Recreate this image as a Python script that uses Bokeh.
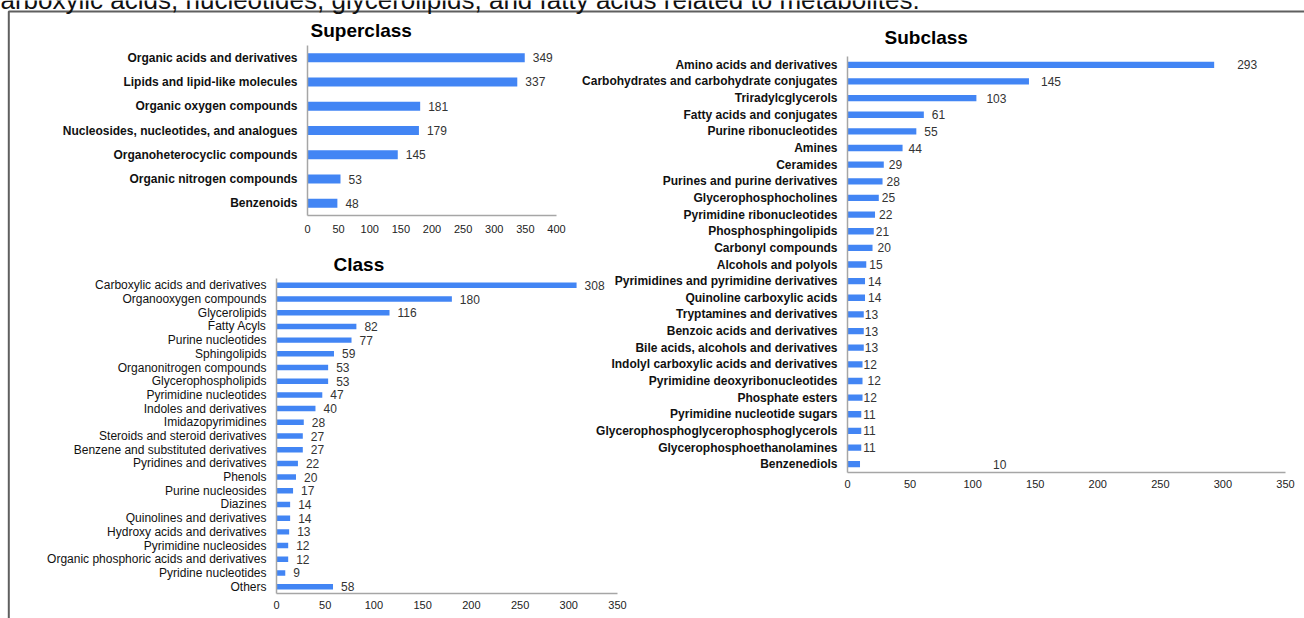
from bokeh.plotting import figure
from bokeh.models import ColumnDataSource, FactorRange, Range1d, FixedTicker, Label, BoxAnnotation
from bokeh.embed import file_html
from bokeh.resources import INLINE
from bokeh.core.properties import value

W, H = 1304, 618
FONT = "Liberation Sans"
BAR = "#4285f4"
AXIS = "#a6a6a6"

# ---------------- data ----------------
caption = "arboxylic acids, nucleotides, glycerolipids, and fatty acids related to metabolites."

super_names = ["Organic acids and derivatives", "Lipids and lipid-like molecules",
               "Organic oxygen compounds", "Nucleosides, nucleotides, and analogues",
               "Organoheterocyclic compounds", "Organic nitrogen compounds", "Benzenoids"]
super_values = [349, 337, 181, 179, 145, 53, 48]
super_ticks = [0, 50, 100, 150, 200, 250, 300, 350, 400]

class_names = ["Carboxylic acids and derivatives", "Organooxygen compounds", "Glycerolipids",
               "Fatty Acyls", "Purine nucleotides", "Sphingolipids", "Organonitrogen compounds",
               "Glycerophospholipids", "Pyrimidine nucleotides", "Indoles and derivatives",
               "Imidazopyrimidines", "Steroids and steroid derivatives",
               "Benzene and substituted derivatives", "Pyridines and derivatives", "Phenols",
               "Purine nucleosides", "Diazines", "Quinolines and derivatives",
               "Hydroxy acids and derivatives", "Pyrimidine nucleosides",
               "Organic phosphoric acids and derivatives", "Pyridine nucleotides", "Others"]
class_values = [308, 180, 116, 82, 77, 59, 53, 53, 47, 40, 28, 27, 27, 22, 20, 17, 14, 14,
                13, 12, 12, 9, 58]
class_ticks = [0, 50, 100, 150, 200, 250, 300, 350]

sub_names = ["Amino acids and derivatives", "Carbohydrates and carbohydrate conjugates",
             "Triradylcglycerols", "Fatty acids and conjugates", "Purine ribonucleotides",
             "Amines", "Ceramides", "Purines and purine derivatives", "Glycerophosphocholines",
             "Pyrimidine ribonucleotides", "Phosphosphingolipids", "Carbonyl compounds",
             "Alcohols and polyols", "Pyrimidines and pyrimidine derivatives",
             "Quinoline carboxylic acids", "Tryptamines and derivatives",
             "Benzoic acids and derivatives", "Bile acids, alcohols and derivatives",
             "Indolyl carboxylic acids and derivatives", "Pyrimidine deoxyribonucleotides",
             "Phosphate esters", "Pyrimidine nucleotide sugars",
             "Glycerophosphoglycerophosphoglycerols", "Glycerophosphoethanolamines",
             "Benzenediols"]
sub_values = [293, 145, 103, 61, 55, 44, 29, 28, 25, 22, 21, 20, 15, 14, 14, 13, 13, 13,
              12, 12, 12, 11, 11, 11, 10]
sub_ticks = [0, 50, 100, 150, 200, 250, 300, 350]

# label offsets (pixels, style only)
sub_label_dx = [23, 12, 10, 8, 8, 6, 5, 4, 3, 4, 2, 5, 3, 3, 3, 1, 1, 1, 1, 5, 1, 2, 2, 2, 133]


def background():
    p = figure(width=W, height=H, x_range=Range1d(0, W), y_range=Range1d(H, 0),
               toolbar_location=None, output_backend="svg", min_border=0,
               x_axis_location=None, y_axis_location=None,
               background_fill_color="white", border_fill_color="white",
               outline_line_color=None)
    p.xgrid.visible = False
    p.ygrid.visible = False
    p.add_layout(BoxAnnotation(left=8.3, right=W + 50, top=11, bottom=H + 50,
                               fill_color=None, fill_alpha=0, line_color="#5f5f5f",
                               line_alpha=1.0, line_width=2))
    p.add_layout(Label(x=0, y=-1, text=caption, text_font=FONT, text_font_size="26px",
                       text_color="#111111", text_baseline="alphabetic"))
    return p


def chart(names, values, ticks, xmax, frame, title, t_offset, t_standoff, bold, bar_h,
          dx, tick_standoff):
    left, top, right, bottom = frame
    src = ColumnDataSource(dict(name=names, val=values, lab=[str(v) for v in values], dx=dx))
    p = figure(width=W, height=H, y_range=FactorRange(factors=names[::-1]),
               x_range=Range1d(0, xmax), toolbar_location=None, output_backend="svg",
               min_border_left=left, min_border_top=top, min_border_right=W - right,
               min_border_bottom=H - bottom, background_fill_color=None,
               border_fill_color=None, outline_line_color=None, margin=(-H, 0, 0, 0))
    p.hbar(y="name", left=0, right="val", height=bar_h, source=src, fill_color=BAR,
           line_color=None)
    p.text(x="val", y="name", text="lab", x_offset="dx", source=src, text_font=value(FONT),
           text_font_size="12px", text_baseline="middle", text_align="left",
           text_color="#333333")
    p.xgrid.visible = False
    p.ygrid.visible = False

    p.title.text = title
    p.title.align = "left"
    p.title.offset = t_offset
    p.title.standoff = t_standoff
    p.title.text_font = FONT
    p.title.text_font_size = "19px"
    p.title.text_font_style = "bold"
    p.title.text_color = "#000000"

    xa = p.xaxis[0]
    xa.ticker = FixedTicker(ticks=ticks)
    xa.major_tick_line_color = None
    xa.minor_tick_line_color = None
    xa.major_tick_out = 0
    xa.major_tick_in = 0
    xa.axis_line_color = AXIS
    xa.axis_line_width = 1.5
    xa.major_label_text_font = FONT
    xa.major_label_text_font_size = "11px"
    xa.major_label_text_color = "#222222"
    xa.major_label_standoff = tick_standoff

    ya = p.yaxis[0]
    ya.major_tick_line_color = None
    ya.minor_tick_line_color = None
    ya.major_tick_out = 0
    ya.major_tick_in = 0
    ya.axis_line_color = AXIS
    ya.axis_line_width = 1.5
    ya.major_label_text_font = FONT
    ya.major_label_text_font_size = "12px"
    ya.major_label_text_font_style = "bold" if bold else "normal"
    ya.major_label_text_color = "#111111"
    ya.major_label_standoff = 10
    return p


bg = background()
p_super = chart(super_names, super_values, super_ticks, 400, (307, 45, 556, 215),
                "Superclass", 3, 9, True, 0.37, [8] * len(super_values), 9)
p_class = chart(class_names, class_values, class_ticks, 350, (276, 278, 617, 593),
                "Class", 57, 7, False, 0.4, [8] * len(class_values), 7)
p_sub = chart(sub_names, sub_values, sub_ticks, 350, (847, 56, 1285, 472),
              "Subclass", 37, 17, True, 0.38, sub_label_dx, 7)

roots = [bg, p_super, p_class, p_sub]
open("out.html", "w").write(file_html(roots, INLINE))
